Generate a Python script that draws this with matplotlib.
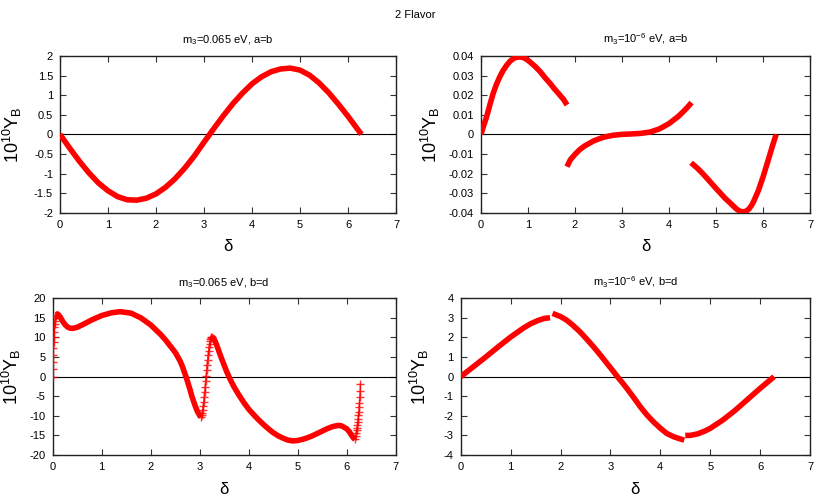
import numpy as np
import matplotlib
matplotlib.use("Agg")
import matplotlib.pyplot as plt

plt.rcParams['font.family'] = ['Liberation Sans', 'DejaVu Sans']
plt.rcParams['mathtext.default'] = 'regular'
plt.rcParams['axes.unicode_minus'] = False

# m3 = 0.065 eV, a=b
tl_d = [0, 0.2, 0.4, 0.6, 0.8, 1.0, 1.2, 1.4, 1.6, 1.8, 2.0, 2.2, 2.4, 2.6,
        2.8, 3.0, 3.2, 3.4, 3.6, 3.8, 4.0, 4.2, 4.4, 4.6, 4.8, 5.0, 5.2, 5.4,
        5.6, 5.8, 6.0, 6.2, 6.28]
tl_y = [0, -0.35, -0.68, -0.98, -1.24, -1.44, -1.59, -1.67, -1.68, -1.63,
        -1.52, -1.35, -1.13, -0.86, -0.55, -0.2, 0.14, 0.47, 0.78, 1.05, 1.29,
        1.47, 1.60, 1.67, 1.69, 1.64, 1.51, 1.31, 1.06, 0.77, 0.46, 0.13, 0.0]

# m3 = 1e-6 eV, a=b (three branches)
tr_d1 = [0, 0.06, 0.12, 0.19, 0.26, 0.33, 0.4, 0.47, 0.55, 0.62, 0.69, 0.75,
         0.82, 0.9, 0.97, 1.04, 1.15, 1.26, 1.36, 1.47, 1.57, 1.68, 1.76, 1.83]
tr_y1 = [0, 0.0047, 0.009, 0.0152, 0.021, 0.0256, 0.0294, 0.0326, 0.0354,
         0.0374, 0.0387, 0.0393, 0.0395, 0.0392, 0.0383, 0.037, 0.0347, 0.032,
         0.029, 0.026, 0.023, 0.02, 0.0177, 0.015]
tr_d2 = [1.83, 1.9, 2.0, 2.1, 2.2, 2.4, 2.6, 2.8, 3.0, 3.2, 3.4, 3.6, 3.8, 4.0,
         4.2, 4.3, 4.4, 4.48]
tr_y2 = [-0.0165, -0.013, -0.0102, -0.0078, -0.006, -0.0033, -0.0015, -0.0005,
         0.0, 0.0002, 0.0005, 0.0012, 0.0028, 0.0055, 0.0092, 0.0115, 0.014, 0.0162]
tr_d3 = [4.47, 4.6, 4.7, 4.8, 4.9, 5.0, 5.1, 5.2, 5.3, 5.4, 5.45, 5.5, 5.55,
         5.6, 5.65, 5.7, 5.75, 5.8, 5.9, 6.0, 6.1, 6.2, 6.28]
tr_y3 = [-0.0145, -0.0172, -0.0196, -0.0222, -0.0249, -0.0276, -0.0302,
         -0.0328, -0.035, -0.0373, -0.0384, -0.0391, -0.0395, -0.0395,
         -0.0391, -0.0381, -0.0365, -0.0343, -0.0288, -0.0218, -0.014,
         -0.006, 0.0]

# m3 = 0.065 eV, b=d (steep parts kept apart, they show the single points)
bl_d0 = [0.0, 0.004, 0.008, 0.012, 0.016, 0.02, 0.025, 0.03, 0.035, 0.04,
         0.046, 0.052, 0.06, 0.07]
bl_y0 = [0.0, 1.9, 3.8, 5.5, 7.2, 8.8, 10.2, 11.5, 12.6, 13.5, 14.3, 14.9,
         15.4, 15.7]
bl_d1 = [0.07, 0.1, 0.15, 0.2, 0.25, 0.3, 0.35, 0.4, 0.5, 0.6, 0.8, 1.0, 1.2,
         1.38, 1.6, 1.8, 2.0, 2.2, 2.3, 2.4, 2.5, 2.6, 2.65, 2.72, 2.8, 2.84,
         2.9, 2.95, 3.0, 3.03]
bl_y1 = [15.7, 16.0, 15.3, 14.2, 13.3, 12.7, 12.4, 12.3, 12.6, 13.2, 14.5,
         15.6, 16.3, 16.6, 16.2, 15.0, 13.2, 10.8, 9.4, 7.8, 6.2, 4.0, 2.5, 0.0,
         -3.2, -5.0, -7.2, -8.8, -9.9, -10.2]
bl_d2 = [3.03, 3.04, 3.05, 3.06, 3.07, 3.08, 3.09, 3.10, 3.11, 3.12, 3.13,
         3.14, 3.15, 3.16, 3.17, 3.18, 3.19, 3.20, 3.21, 3.22, 3.23, 3.24, 3.25]
bl_y2 = [-10.2, -9.9, -9.3, -8.5, -7.6, -6.5, -5.3, -4.0, -2.6, -1.2, 0.2,
         1.6, 3.0, 4.3, 5.5, 6.6, 7.6, 8.4, 9.1, 9.6, 9.9, 10.1, 10.2]
bl_d3 = [3.25, 3.28, 3.32, 3.36, 3.4, 3.45, 3.5, 3.55, 3.6, 3.65, 3.7, 3.8,
         3.9, 4.0, 4.1, 4.2, 4.3, 4.4, 4.5, 4.6, 4.7, 4.8, 4.9, 5.0, 5.1, 5.2,
         5.3, 5.4, 5.5, 5.6, 5.7, 5.8, 5.85, 5.9, 6.0, 6.05, 6.1, 6.15, 6.17]
bl_y3 = [10.2, 9.9, 8.9, 7.6, 6.2, 4.5, 2.9, 1.3, -0.1, -1.4, -2.6, -4.7,
         -6.6, -8.3, -9.7, -11.0, -12.2, -13.3, -14.3, -15.1, -15.7, -16.2,
         -16.4, -16.3, -16.0, -15.6, -15.1, -14.5, -13.9, -13.3, -12.8, -12.5,
         -12.45, -12.6, -13.3, -14.0, -15.0, -15.8, -16.0]
bl_d4 = [6.17, 6.185, 6.195, 6.205, 6.212, 6.219, 6.226, 6.233, 6.24, 6.247,
         6.254, 6.261, 6.268, 6.275, 6.28]
bl_y4 = [-16.0, -15.2, -14.4, -13.6, -13.0, -12.4, -11.5, -10.7, -9.8, -9.0,
         -7.8, -6.7, -5.1, -3.6, -1.9]

# m3 = 1e-6 eV, b=d (three branches)
br_d1 = [0, 0.25, 0.5, 0.75, 1.0, 1.1, 1.25, 1.4, 1.55, 1.67, 1.79]
br_y1 = [0, 0.5, 1.0, 1.52, 2.02, 2.2, 2.47, 2.7, 2.87, 2.97, 3.01]
br_d2 = [1.84, 2.0, 2.12, 2.25, 2.39, 2.52, 2.66, 2.8, 2.93, 3.04, 3.14, 3.24,
         3.33, 3.47, 3.6, 3.73, 3.86, 4.0, 4.13, 4.27, 4.4, 4.48]
br_y2 = [3.23, 3.07, 2.89, 2.62, 2.29, 1.93, 1.53, 1.1, 0.68, 0.33, 0.0,
         -0.31, -0.6, -1.08, -1.54, -1.95, -2.3, -2.63, -2.9, -3.07, -3.18, -3.24]
br_d3 = [4.5, 4.6, 4.75, 4.9, 5.0, 5.25, 5.5, 5.75, 6.0, 6.28]
br_y3 = [-3.0, -3.0, -2.92, -2.77, -2.64, -2.22, -1.72, -1.16, -0.6, 0.0]

W, H = 830, 498
fig = plt.figure(figsize=(W / 100, H / 100), dpi=100)
fig.text(0.5, 1 - 15 / H, "2 Flavor", ha='center', va='center', fontsize=8)

def box(l, t, r, b):
    return [l / W, 1 - b / H, (r - l) / W, (b - t) / H]

ax_tl = fig.add_axes(box(60, 56, 396, 212.7))
ax_tr = fig.add_axes(box(481, 56, 810, 212.7))
ax_bl = fig.add_axes(box(52.7, 298.3, 395.7, 455))
ax_br = fig.add_axes(box(460.7, 298.3, 810, 455))

RED = '#ff0000'
LW = 4.0

def thick(ax, d, y):
    ax.plot(d, y, color=RED, lw=LW, solid_capstyle='butt',
            solid_joinstyle='round', zorder=3)

def points(ax, d, y):
    ax.plot(d, y, color=RED, lw=1.0, marker='+', ms=5.5, mew=1.0, alpha=0.8, zorder=3)

def setup(ax, title, yticks, ylabelpad):
    ax.axhline(0, color='black', lw=0.8, zorder=2)
    ax.set_xlim(0, 7)
    ax.set_xticks(range(8))
    ax.set_ylim(yticks[0], yticks[-1])
    ax.set_yticks(yticks)
    ax.set_yticklabels([f"{round(v, 6) + 0.0:g}" for v in yticks])
    ax.tick_params(direction='in', top=True, right=True, length=4, width=0.8,
                   labelsize=8, pad=5, color='#333333')
    for s in ax.spines.values():
        s.set_linewidth(1.0)
        s.set_color('#222222')
    ax.set_title(title, fontsize=8, pad=9)
    ax.set_xlabel("δ", fontsize=12, labelpad=7)
    ax.set_ylabel(r"10$^{10}$Y$_B$", fontsize=13, labelpad=ylabelpad)

thick(ax_tl, tl_d, tl_y)
setup(ax_tl, r"m$_3$=0.065 eV, a=b", np.linspace(-2, 2, 9), 7)

for d, y in [(tr_d1, tr_y1), (tr_d2, tr_y2), (tr_d3, tr_y3)]:
    thick(ax_tr, d, y)
setup(ax_tr, r"m$_3$=10$^{-6}$ eV, a=b", np.linspace(-0.04, 0.04, 9), 5)

points(ax_bl, bl_d0, bl_y0)
thick(ax_bl, bl_d1, bl_y1)
points(ax_bl, bl_d2, bl_y2)
thick(ax_bl, bl_d3, bl_y3)
points(ax_bl, bl_d4, bl_y4)
setup(ax_bl, r"m$_3$=0.065 eV, b=d", np.linspace(-20, 20, 9), 5)

for d, y in [(br_d1, br_y1), (br_d2, br_y2), (br_d3, br_y3)]:
    thick(ax_br, d, y)
setup(ax_br, r"m$_3$=10$^{-6}$ eV, b=d", np.linspace(-4, 4, 9), 9)

fig.savefig("out.png", dpi=100)
